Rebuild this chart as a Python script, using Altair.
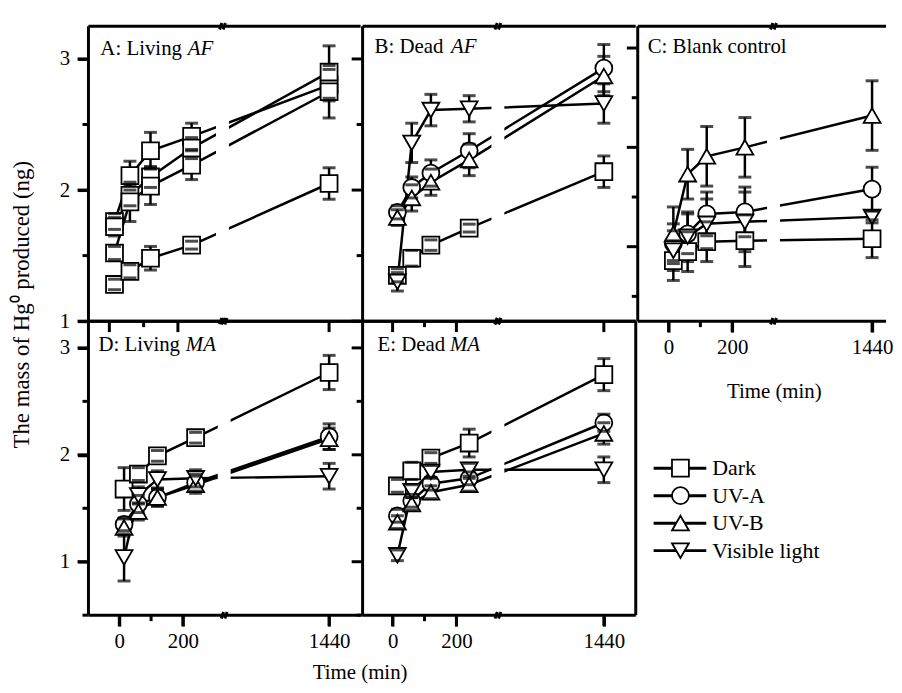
import altair as alt
import pandas as pd

FONT = "Liberation Serif"
TIMES = [15, 60, 120, 240, 1440]
TREATMENTS = ["Dark", "UV-A", "UV-B", "Visible light"]
SHAPES = ["square", "circle", "triangle-up", "triangle-down"]
SIZES = [290, 290, 400, 400]

# ---- A: Living AF ----
A_dark = [1.28, 1.38, 1.48, 1.58, 2.05]
A_uva = [1.76, 2.11, 2.30, 2.41, 2.80]
A_uvb = [1.72, 1.96, 2.10, 2.32, 2.90]
A_vis = [1.52, 1.91, 2.03, 2.19, 2.75]
A_dark_err = [0.04, 0.05, 0.09, 0.03, 0.12]
A_uva_err = [0.06, 0.11, 0.14, 0.10, 0.12]
A_uvb_err = [0.07, 0.08, 0.08, 0.08, 0.20]
A_vis_err = [0.05, 0.15, 0.14, 0.11, 0.20]

# ---- B: Dead AF ----
B_dark = [1.35, 1.48, 1.58, 1.71, 2.14]
B_uva = [1.83, 2.02, 2.13, 2.30, 2.93]
B_uvb = [1.79, 1.94, 2.06, 2.23, 2.87]
B_vis = [1.30, 2.36, 2.61, 2.62, 2.66]
B_dark_err = [0.05, 0.06, 0.04, 0.03, 0.12]
B_uva_err = [0.05, 0.08, 0.10, 0.13, 0.18]
B_uvb_err = [0.06, 0.10, 0.10, 0.12, 0.15]
B_vis_err = [0.07, 0.15, 0.12, 0.10, 0.15]

# ---- C: Blank control ----
C_dark = [0.86, 0.95, 1.05, 1.06, 1.08]
C_uva = [1.03, 1.13, 1.33, 1.35, 1.58]
C_uvb = [1.13, 1.73, 1.91, 2.00, 2.32]
C_vis = [0.96, 1.10, 1.23, 1.25, 1.30]
C_dark_err = [0.20, 0.20, 0.20, 0.26, 0.19]
C_uva_err = [0.20, 0.20, 0.22, 0.25, 0.22]
C_uvb_err = [0.27, 0.25, 0.30, 0.30, 0.35]
C_vis_err = [0.20, 0.25, 0.25, 0.30, 0.06]

# ---- D: Living MA ----
D_dark = [1.68, 1.82, 1.99, 2.16, 2.77]
D_uva = [1.35, 1.54, 1.60, 1.74, 2.17]
D_uvb = [1.32, 1.47, 1.60, 1.72, 2.15]
D_vis = [1.04, 1.62, 1.77, 1.78, 1.80]
D_dark_err = [0.20, 0.06, 0.05, 0.05, 0.16]
D_uva_err = [0.06, 0.08, 0.08, 0.08, 0.12]
D_uvb_err = [0.08, 0.08, 0.08, 0.08, 0.10]
D_vis_err = [0.22, 0.08, 0.08, 0.08, 0.12]

# ---- E: Dead MA ----
E_dark = [1.71, 1.85, 1.97, 2.11, 2.75]
E_uva = [1.43, 1.57, 1.73, 1.78, 2.30]
E_uvb = [1.37, 1.54, 1.65, 1.72, 2.20]
E_vis = [1.06, 1.66, 1.84, 1.86, 1.86]
E_dark_err = [0.06, 0.08, 0.05, 0.13, 0.15]
E_uva_err = [0.06, 0.06, 0.06, 0.06, 0.08]
E_uvb_err = [0.06, 0.06, 0.06, 0.06, 0.10]
E_vis_err = [0.05, 0.06, 0.06, 0.06, 0.12]

SERIES = {
    "A": ([A_dark, A_uva, A_uvb, A_vis], [A_dark_err, A_uva_err, A_uvb_err, A_vis_err]),
    "B": ([B_dark, B_uva, B_uvb, B_vis], [B_dark_err, B_uva_err, B_uvb_err, B_vis_err]),
    "C": ([C_dark, C_uva, C_uvb, C_vis], [C_dark_err, C_uva_err, C_uvb_err, C_vis_err]),
    "D": ([D_dark, D_uva, D_uvb, D_vis], [D_dark_err, D_uva_err, D_uvb_err, D_vis_err]),
    "E": ([E_dark, E_uva, E_uvb, E_vis], [E_dark_err, E_uva_err, E_uvb_err, E_vis_err]),
}

rows = []
for key, (vals, errs) in SERIES.items():
    for trt, vs, es in zip(TREATMENTS, vals, errs):
        for t, v, e in zip(TIMES, vs, es):
            rows.append({"panel": key, "treatment": trt, "t": t, "value": v, "err": e})
df = pd.DataFrame(rows)

BREAK = 330
BREAK_PATH = "M-0.45,0.5L-0.1,-0.5M0.1,0.5L0.45,-0.5"
TXT = dict(font=FONT, color="black")


def axis_common():
    return dict(ticks=True, tickSize=11, tickWidth=3, tickColor="black", tickOpacity=1,
                domain=False, grid=False, minExtent=0,
                labelFont=FONT, labelFontSize=21, labelColor="black",
                labelFlush=False, labelOverlap=False,
                titleFont=FONT, titleFontSize=21, titleFontWeight="normal",
                titleColor="black")


def make_panel(key, width, height, xdom, p1440, ydom, ymajor, yminor, xlabels, ylabels,
               ytitle=None, ytitle_pos=None, xtitle=None, xtitle_pos=None,
               title_main="", title_ital="", tpos=(12, 27), ipos=99,
               all_squares=False, right_border=True):
    sub = df[df.panel == key]
    base = alt.Chart(sub).transform_calculate(
        tp=f"datum.t > 1000 ? {p1440} : datum.t",
        lo="datum.value - datum.err",
        hi="datum.value + datum.err",
    )
    xmajor = [0, 200, p1440]
    xminor = [100]
    if xlabels:
        xkw = dict(values=xmajor, labels=True, labelPadding=5,
                   labelExpr=f"datum.value == {p1440} ? '1440' : format(datum.value, 'd')",
                   **axis_common())
        if xtitle_pos is not None:
            xkw.update(titleX=xtitle_pos[0], titleY=xtitle_pos[1], titleAlign="center",
                       titleBaseline="middle", titleAnchor="middle")
        xaxis = alt.Axis(**xkw)
    else:
        xaxis = None
    if ylabels:
        ykw = dict(values=ymajor, labels=True, labelPadding=8,
                   labelExpr="format(datum.value, 'd')", **axis_common())
        if ytitle_pos is not None:
            ykw.update(titleX=ytitle_pos[0], titleY=ytitle_pos[1], titleAngle=270,
                       titleAlign="center", titleBaseline="middle", titleFontSize=23)
        yaxis = alt.Axis(**ykw)
    else:
        yaxis = None
    xscale = alt.Scale(domain=xdom, nice=False, zero=False)
    yscale = alt.Scale(domain=ydom, nice=False, zero=False)

    def X(field):
        return alt.X(f"{field}:Q", scale=xscale, axis=xaxis, title=xtitle)

    def Y(field):
        return alt.Y(f"{field}:Q", scale=yscale, axis=yaxis, title=ytitle)

    XB = alt.XDatum(BREAK, scale=xscale, axis=xaxis, title=xtitle)

    if all_squares:
        shape = alt.value("square")
        size = alt.value(290)
    else:
        shape = alt.Shape("treatment:N", scale=alt.Scale(domain=TREATMENTS, range=SHAPES), legend=None)
        size = alt.Size("treatment:N", scale=alt.Scale(domain=TREATMENTS, range=SIZES), legend=None)

    one = alt.Chart(alt.Data(values=[{}]))
    layers = []
    # axis ticks (major and minor) drawn as rules through the panel's scales
    for vals, ln in ((xmajor, 11), (xminor, 6)):
        layers.append(alt.Chart(pd.DataFrame({"v": vals})).mark_rule(
            strokeWidth=3, color="black", opacity=1, strokeCap="butt").encode(
            x=X("v"), y=alt.value(height), y2=alt.value(height + ln)))
    for vals, ln in ((ymajor, 11), (yminor, 6)):
        layers.append(alt.Chart(pd.DataFrame({"v": vals})).mark_rule(
            strokeWidth=3, color="black", opacity=1, strokeCap="butt").encode(
            y=Y("v"), x=alt.value(-ln), x2=alt.value(0)))

    layers.append(base.mark_rule(color="black", strokeWidth=2.5).encode(
        x=X("tp"), y=Y("lo"), y2="hi:Q"))
    layers.append(base.mark_line(color="black", strokeWidth=2.5).encode(
        x=X("tp"), y=Y("value"), detail="treatment:N", order="t:Q"))
    layers.append(one.mark_rule(color="white", strokeWidth=13).encode(
        x=XB, y=alt.value(3), y2=alt.value(height - 3)))
    layers.append(base.mark_point(fill="white", stroke="black", strokeWidth=1.8,
                                  fillOpacity=1, opacity=1).encode(
        x=X("tp"), y=Y("value"), shape=shape, size=size))
    for f in ("lo", "hi"):
        layers.append(base.mark_tick(color="black", thickness=3, size=13,
                                     orient="horizontal").encode(x=X("tp"), y=Y(f)))
    # panel frame
    for yy in (0, height):
        layers.append(one.mark_rule(color="black", strokeWidth=3).encode(
            x=alt.value(0), x2=alt.value(width), y=alt.value(yy)))
    xs = [0, width] if right_border else [0]
    for xx in xs:
        layers.append(one.mark_rule(color="black", strokeWidth=3).encode(
            y=alt.value(0), y2=alt.value(height), x=alt.value(xx)))
    for yy in (0, height):
        layers.append(one.mark_point(shape=BREAK_PATH, size=169, filled=False, stroke="black",
                                     strokeWidth=3, opacity=1).encode(x=XB, y=alt.value(yy)))
    layers.append(one.mark_text(text=title_main, align="left", baseline="middle",
                                fontSize=21, **TXT).encode(
        x=alt.value(tpos[0]), y=alt.value(tpos[1])))
    if title_ital:
        layers.append(one.mark_text(text=title_ital, align="left", baseline="middle",
                                    fontSize=21, fontStyle="italic", **TXT).encode(
            x=alt.value(ipos), y=alt.value(tpos[1])))

    return alt.layer(*layers).properties(
        width=width, height=height, view=alt.ViewBackground(stroke="transparent"))


YTITLE = "The mass of Hg\u2070 produced (ng)"
A = make_panel("A", 274, 297, [-61, 733], 641, [1, 3.25], [1, 2, 3], [1.5, 2.5],
               xlabels=False, ylabels=True, ytitle=YTITLE, ytitle_pos=(-67, 280),
               title_main="A: Living ", title_ital="AF", tpos=(12, 23), ipos=100,
               all_squares=True, right_border=False)
B = make_panel("B", 275, 297, [-94, 762], 662, [1, 3.25], [1, 2, 3], [1.5, 2.5],
               xlabels=False, ylabels=False,
               title_main="B: Dead ", title_ital="AF", tpos=(12, 21), ipos=89,
               right_border=False)
C = make_panel("C", 250, 297, [-97, 684], 640, [0.25, 3.22], [1, 2, 3], [0.5, 1.5, 2.5],
               xlabels=True, ylabels=False, xtitle="Time (min)", xtitle_pos=(137, 71),
               title_main="C: Blank control", tpos=(10, 21), right_border=False)
D = make_panel("D", 274, 296, [-97, 759], 660, [0.5, 3.25], [1, 2, 3], [0.5, 1.5, 2.5],
               xlabels=True, ylabels=True,
               title_main="D: Living ", title_ital="MA", tpos=(10, 24), ipos=98,
               right_border=False)
E = make_panel("E", 275, 296, [-94, 762], 662, [0.5, 3.25], [1, 2, 3], [0.5, 1.5, 2.5],
               xlabels=True, ylabels=False,
               title_main="E: Dead ", title_ital="MA", tpos=(15, 24), ipos=88)

# legend cell
leg = alt.Chart(pd.DataFrame({"treatment": TREATMENTS}))
ly = alt.Y("treatment:N", sort=TREATMENTS,
           scale=alt.Scale(type="point", domain=TREATMENTS, range=[148, 231], padding=0),
           axis=None)
leg_rule = leg.mark_rule(color="black", strokeWidth=3).encode(
    x=alt.value(16), x2=alt.value(69), y=ly)
leg_pts = leg.mark_point(fill="white", stroke="black", strokeWidth=1.8, fillOpacity=1,
                         opacity=1).encode(
    x=alt.value(43), y=ly,
    shape=alt.Shape("treatment:N", scale=alt.Scale(domain=TREATMENTS, range=SHAPES), legend=None),
    size=alt.Size("treatment:N", scale=alt.Scale(domain=TREATMENTS, range=SIZES), legend=None))
leg_txt = leg.mark_text(align="left", baseline="middle", fontSize=22, **TXT).encode(
    x=alt.value(75), y=ly, text="treatment:N")
L = alt.layer(leg_rule, leg_pts, leg_txt).properties(
    width=250, height=296, view=alt.ViewBackground(stroke="transparent"))

col1 = alt.vconcat(A, D, spacing=0, bounds="flush")
col2 = alt.vconcat(B, E, spacing=0, bounds="flush")
col3 = alt.vconcat(C, L, spacing=0, bounds="flush")

chart = alt.hconcat(
    col1, col2, col3, spacing=-13, bounds="full",
    padding={"left": 2, "top": 6, "right": 0, "bottom": 0},
    title=alt.TitleParams("Time (min)", orient="bottom", anchor="start", align="center",
                          frame="bounds", dx=352, offset=10, font=FONT, fontSize=21,
                          fontWeight="normal", color="black"),
).configure(background="white")

chart.save("out.html", embed_options={"renderer": "svg", "actions": False})
